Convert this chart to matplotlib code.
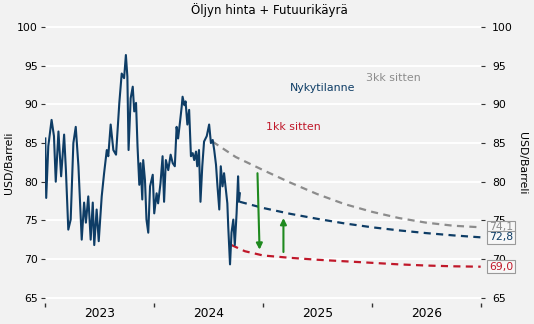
import matplotlib
matplotlib.use("Agg")
import matplotlib.pyplot as plt
import pandas as pd

# ---------------- data ----------------
price_dates = ["2023-01-02","2023-01-05","2023-01-12","2023-01-23","2023-01-31","2023-02-06","2023-02-15",
    "2023-02-24","2023-03-06","2023-03-12","2023-03-20","2023-03-28","2023-04-06","2023-04-14","2023-04-23",
    "2023-05-04","2023-05-12","2023-05-18","2023-05-26","2023-06-03","2023-06-10","2023-06-15","2023-06-23",
    "2023-06-30","2023-07-10","2023-07-18","2023-07-27","2023-08-01","2023-08-09","2023-08-18","2023-08-27",
    "2023-09-07","2023-09-15","2023-09-23","2023-09-29","2023-10-04","2023-10-08","2023-10-15","2023-10-22",
    "2023-10-27","2023-11-02","2023-11-07","2023-11-13","2023-11-17","2023-11-23","2023-11-26","2023-12-02",
    "2023-12-07","2023-12-13","2023-12-19","2023-12-28","2024-01-02","2024-01-10","2024-01-15","2024-01-23",
    "2024-01-30","2024-02-04","2024-02-10","2024-02-18","2024-02-26","2024-03-04","2024-03-11","2024-03-17",
    "2024-03-22","2024-03-28","2024-04-03","2024-04-06","2024-04-12","2024-04-16","2024-04-22","2024-04-28",
    "2024-05-04","2024-05-10","2024-05-15","2024-05-21","2024-05-25","2024-05-31","2024-06-05","2024-06-11",
    "2024-06-17","2024-06-26","2024-07-04","2024-07-10","2024-07-16","2024-07-21","2024-07-27","2024-08-01",
    "2024-08-07","2024-08-12","2024-08-18","2024-08-23","2024-08-29","2024-09-03","2024-09-06","2024-09-12",
    "2024-09-17","2024-09-23","2024-09-28","2024-10-04","2024-10-09","2024-10-12","2024-10-15"]
price_values = [85.6,77.9,84.6,88.0,85.9,80.0,86.5,
    80.7,86.1,81.5,73.8,75.1,85.0,87.1,82.0,
    72.5,77.3,74.7,78.1,72.5,77.3,71.8,76.4,
    72.3,78.1,81.1,84.1,83.3,87.4,84.1,83.5,
    90.2,94.0,93.4,96.4,93.6,84.1,90.8,92.3,
    89.1,90.2,84.6,79.6,82.4,77.7,82.8,80.2,
    75.1,73.4,79.4,80.9,75.9,78.5,77.2,79.8,
    83.3,77.4,82.8,81.5,83.5,82.4,82.0,87.1,
    85.6,87.6,89.7,91.0,89.9,90.4,87.4,89.3,
    83.3,83.7,82.8,83.9,82.0,84.1,77.4,82.0,
    85.2,85.9,87.4,85.0,85.4,84.1,82.2,79.4,
    76.4,82.0,79.4,81.1,79.0,77.2,74.2,69.3,
    73.4,75.1,71.8,75.9,80.7,77.4,78.5]

fut3_dates = ["2024-07-15","2024-10-01","2025-01-01","2025-04-01","2025-07-01","2025-10-01",
              "2026-01-01","2026-04-01","2026-07-01","2026-10-01","2026-12-31"]
fut3_values = [85.2,83.2,81.5,79.9,78.4,77.1,76.1,75.3,74.7,74.3,74.1]

fut0_dates = ["2024-10-15","2025-01-01","2025-04-01","2025-07-01","2025-10-01",
              "2026-01-01","2026-04-01","2026-07-01","2026-10-01","2026-12-31"]
fut0_values = [77.4,76.6,75.85,75.2,74.6,74.1,73.7,73.35,73.05,72.8]

fut1_dates = ["2024-09-17","2024-11-01","2025-01-01","2025-04-01","2025-07-01","2025-10-01",
              "2026-01-01","2026-04-01","2026-07-01","2026-10-01","2026-12-31"]
fut1_values = [71.8,71.0,70.45,70.15,69.9,69.7,69.5,69.3,69.15,69.05,69.0]

end_labels = ["74,1", "72,8", "69,0"]

arrow_down = {"x0": "2024-12-13", "y0": 81.1, "x1": "2024-12-20", "y1": 71.2}
arrow_up = {"x0": "2025-03-10", "y0": 70.9, "x1": "2025-03-10", "y1": 75.3}

series_text = ["Nykytilanne", "3kk sitten", "1kk sitten"]
text_dates = ["2025-07-20", "2026-03-15", "2025-04-13"]
text_values = [92.15, 93.4, 87.1]

yticks = [65, 70, 75, 80, 85, 90, 95, 100]
years = [2023, 2024, 2025, 2026]

# ---------------- style ----------------
BG = "#f2f2f2"
BLUE = "#0e3d66"
GRAY = "#8c8c8c"
RED = "#c0182a"
GREEN = "#1f8a1f"

plt.rcParams["font.family"] = ["DejaVu Sans"]

fig = plt.figure(figsize=(5.34, 3.24), dpi=100, facecolor=BG)
ax = fig.add_axes([0.0843, 0.0648, 0.8164, 0.8632], facecolor=BG)

d = pd.to_datetime
ax.plot(d(fut3_dates), fut3_values, color=GRAY, lw=1.6, ls=(0, (3.2, 2.4)), zorder=3)
ax.plot(d(fut0_dates), fut0_values, color=BLUE, lw=1.6, ls=(0, (3.2, 2.4)), zorder=3)
ax.plot(d(fut1_dates), fut1_values, color=RED, lw=1.6, ls=(0, (3.2, 2.4)), zorder=3)
ax.plot(d(price_dates), price_values, color=BLUE, lw=1.5, zorder=4)

for a in (arrow_down, arrow_up):
    ax.annotate("", xy=(d(a["x1"]), a["y1"]), xytext=(d(a["x0"]), a["y0"]),
                arrowprops=dict(arrowstyle="-|>", color=GREEN, lw=1.5,
                                mutation_scale=9, shrinkA=0, shrinkB=0), zorder=5)

for t, xd, yv, c in zip(series_text, text_dates, text_values, [BLUE, GRAY, RED]):
    ax.text(d(xd), yv, t, color=c, fontsize=7.9, ha="center", va="center")

ax.set_xlim(d("2023-01-01"), d("2027-01-01"))
ax.set_ylim(64.3, 100.5)
ax.set_yticks(yticks)
ax.grid(axis="y", color="white", lw=1.4)
ax.set_axisbelow(True)
for s in ax.spines.values():
    s.set_visible(False)

# x ticks: year boundaries (marks), labels at mid-year
ax.set_xticks([d(f"{y}-01-01") for y in years + [2027]])
ax.set_xticklabels([])
ax.set_xticks([d(f"{y}-07-02") for y in years], minor=True)
ax.set_xticklabels([str(y) for y in years], minor=True, fontsize=8.8)
ax.tick_params(axis="x", which="major", length=3, width=1, color="#333333", direction="out", pad=1)
ax.tick_params(axis="x", which="minor", length=0, pad=3)
ax.tick_params(axis="y", length=3, width=0.8, color="#333333", labelsize=7.8, pad=2)
ax.set_ylabel("USD/Barreli", fontsize=7.8, labelpad=2)

ax2 = ax.twinx()
ax2.set_ylim(ax.get_ylim())
ax2.set_yticks(yticks)
ax2.tick_params(axis="y", length=3, width=0.8, color="#333333", labelsize=7.8, pad=5)
for s in ax2.spines.values():
    s.set_visible(False)
ax2.set_ylabel("USD/Barreli", fontsize=7.8, rotation=270, labelpad=10)

# end-value boxes
for dates, vals, lab, c in [(fut3_dates, fut3_values, end_labels[0], GRAY),
                            (fut0_dates, fut0_values, end_labels[1], BLUE),
                            (fut1_dates, fut1_values, end_labels[2], RED)]:
    ax2.annotate(lab, xy=(d(dates[-1]), vals[-1]), xytext=(6, 0), textcoords="offset points",
                 ha="left", va="center", color=c, fontsize=7.8, zorder=10,
                 bbox=dict(boxstyle="square,pad=0.15", fc="#f7f7f7", ec="#999999", lw=0.8),
                 annotation_clip=False)

fig.text(0.505, 0.968, "Öljyn hinta + Futuurikäyrä", ha="center", va="center", fontsize=8.5)

fig.savefig("out.png", dpi=100, facecolor=BG)
